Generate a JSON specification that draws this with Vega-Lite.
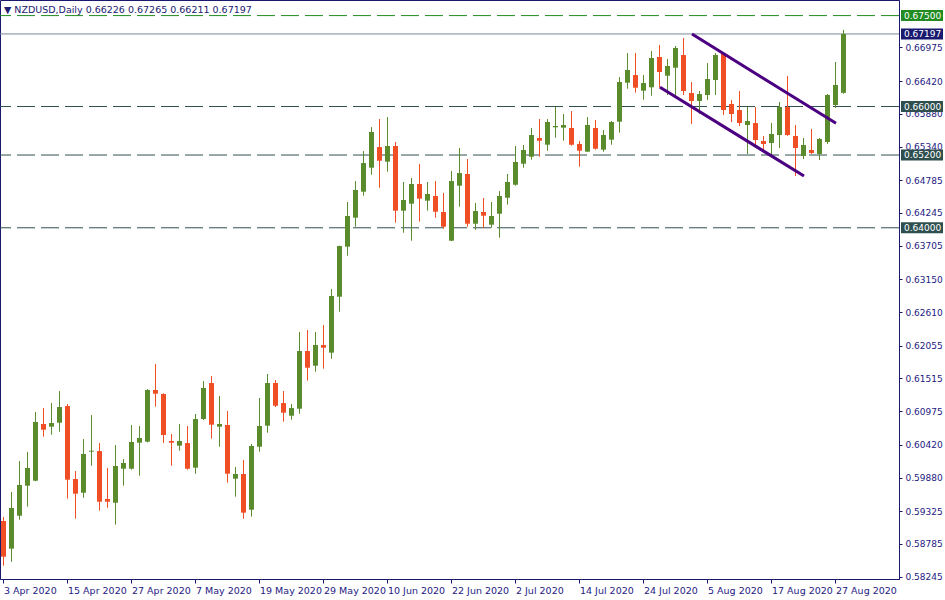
{
  "$schema": "https://vega.github.io/schema/vega-lite/v6.json",
  "width": 899,
  "height": 579,
  "autosize": {"type": "none"},
  "padding": {"left": 0, "top": 0, "right": 46, "bottom": 21},
  "background": "white",
  "config": {
    "view": {"stroke": "#191970", "strokeWidth": 1},
    "font": "DejaVu Sans",
    "axis": {"grid": false, "title": null, "domainColor": "#191970", "tickColor": "#191970", "labelColor": "#1E2082", "labelFont": "DejaVu Sans", "labelOverlap": false}
  },
  "title": {
    "text": "▼ NZDUSD,Daily  0.66226 0.67265 0.66211 0.67197",
    "anchor": "start",
    "frame": "group",
    "offset": -14,
    "dx": 4,
    "fontSize": 9.5,
    "font": "DejaVu Sans",
    "fontWeight": "normal",
    "color": "#202070"
  },
  "datasets": {
    "candles": [
      {"date": "3 Apr 2020", "open": 0.59164, "high": 0.5923, "low": 0.58426, "close": 0.58575},
      {"date": "6 Apr 2020", "open": 0.58707, "high": 0.59642, "low": 0.58492, "close": 0.59378},
      {"date": "7 Apr 2020", "open": 0.59251, "high": 0.60153, "low": 0.59185, "close": 0.59757},
      {"date": "8 Apr 2020", "open": 0.59746, "high": 0.60302, "low": 0.594, "close": 0.60038},
      {"date": "9 Apr 2020", "open": 0.59828, "high": 0.60961, "low": 0.5982, "close": 0.60797},
      {"date": "10 Apr 2020", "open": 0.60764, "high": 0.61027, "low": 0.60554, "close": 0.6067},
      {"date": "13 Apr 2020", "open": 0.60719, "high": 0.6111, "low": 0.60587, "close": 0.6078},
      {"date": "14 Apr 2020", "open": 0.60785, "high": 0.61308, "low": 0.60637, "close": 0.61044},
      {"date": "15 Apr 2020", "open": 0.6106, "high": 0.61093, "low": 0.59532, "close": 0.59845},
      {"date": "16 Apr 2020", "open": 0.59856, "high": 0.59988, "low": 0.59202, "close": 0.59614},
      {"date": "17 Apr 2020", "open": 0.5963, "high": 0.60516, "low": 0.59548, "close": 0.60269},
      {"date": "20 Apr 2020", "open": 0.60307, "high": 0.60912, "low": 0.60076, "close": 0.60323},
      {"date": "21 Apr 2020", "open": 0.60318, "high": 0.6045, "low": 0.59334, "close": 0.59482},
      {"date": "22 Apr 2020", "open": 0.59527, "high": 0.60038, "low": 0.59383, "close": 0.59482},
      {"date": "23 Apr 2020", "open": 0.59465, "high": 0.60417, "low": 0.59103, "close": 0.60071},
      {"date": "24 Apr 2020", "open": 0.60026, "high": 0.60186, "low": 0.59746, "close": 0.6012},
      {"date": "27 Apr 2020", "open": 0.60026, "high": 0.60747, "low": 0.6001, "close": 0.60467},
      {"date": "28 Apr 2020", "open": 0.60455, "high": 0.60731, "low": 0.59911, "close": 0.60533},
      {"date": "29 Apr 2020", "open": 0.60472, "high": 0.61341, "low": 0.6046, "close": 0.61324},
      {"date": "30 Apr 2020", "open": 0.61324, "high": 0.61753, "low": 0.61049, "close": 0.61263},
      {"date": "1 May 2020", "open": 0.61258, "high": 0.6127, "low": 0.6045, "close": 0.60582},
      {"date": "4 May 2020", "open": 0.60483, "high": 0.60599, "low": 0.60076, "close": 0.60455},
      {"date": "5 May 2020", "open": 0.60406, "high": 0.60764, "low": 0.60323, "close": 0.60483},
      {"date": "6 May 2020", "open": 0.6045, "high": 0.60731, "low": 0.6001, "close": 0.60026},
      {"date": "7 May 2020", "open": 0.60043, "high": 0.60928, "low": 0.59944, "close": 0.60846},
      {"date": "8 May 2020", "open": 0.60846, "high": 0.61473, "low": 0.6083, "close": 0.61357},
      {"date": "11 May 2020", "open": 0.6144, "high": 0.61555, "low": 0.60521, "close": 0.60752},
      {"date": "12 May 2020", "open": 0.60719, "high": 0.61225, "low": 0.60389, "close": 0.60764},
      {"date": "13 May 2020", "open": 0.60747, "high": 0.60978, "low": 0.59795, "close": 0.59944},
      {"date": "14 May 2020", "open": 0.59861, "high": 0.60054, "low": 0.59565, "close": 0.59939},
      {"date": "15 May 2020", "open": 0.59939, "high": 0.6017, "low": 0.59202, "close": 0.59301},
      {"date": "18 May 2020", "open": 0.5935, "high": 0.60434, "low": 0.59235, "close": 0.60401},
      {"date": "19 May 2020", "open": 0.60389, "high": 0.61192, "low": 0.60307, "close": 0.60731},
      {"date": "20 May 2020", "open": 0.60736, "high": 0.61588, "low": 0.6062, "close": 0.6144},
      {"date": "21 May 2020", "open": 0.6144, "high": 0.61489, "low": 0.61044, "close": 0.61065},
      {"date": "22 May 2020", "open": 0.6111, "high": 0.61308, "low": 0.60801, "close": 0.6095},
      {"date": "25 May 2020", "open": 0.609, "high": 0.61093, "low": 0.60835, "close": 0.61027},
      {"date": "26 May 2020", "open": 0.61016, "high": 0.62281, "low": 0.60933, "close": 0.61968},
      {"date": "27 May 2020", "open": 0.61968, "high": 0.62314, "low": 0.61478, "close": 0.61692},
      {"date": "28 May 2020", "open": 0.61725, "high": 0.62281, "low": 0.61626, "close": 0.62067},
      {"date": "29 May 2020", "open": 0.62067, "high": 0.62396, "low": 0.61676, "close": 0.62022},
      {"date": "1 Jun 2020", "open": 0.6194, "high": 0.6299, "low": 0.61841, "close": 0.62875},
      {"date": "2 Jun 2020", "open": 0.62863, "high": 0.63705, "low": 0.62616, "close": 0.63699},
      {"date": "3 Jun 2020", "open": 0.63688, "high": 0.64425, "low": 0.63539, "close": 0.64194},
      {"date": "4 Jun 2020", "open": 0.64166, "high": 0.64771, "low": 0.64018, "close": 0.64623},
      {"date": "5 Jun 2020", "open": 0.64595, "high": 0.65266, "low": 0.64529, "close": 0.65068},
      {"date": "8 Jun 2020", "open": 0.64991, "high": 0.65662, "low": 0.64875, "close": 0.6558},
      {"date": "9 Jun 2020", "open": 0.65332, "high": 0.65794, "low": 0.64661, "close": 0.65106},
      {"date": "10 Jun 2020", "open": 0.6509, "high": 0.65827, "low": 0.64925, "close": 0.65349},
      {"date": "11 Jun 2020", "open": 0.65349, "high": 0.65415, "low": 0.64084, "close": 0.64282},
      {"date": "12 Jun 2020", "open": 0.64282, "high": 0.64755, "low": 0.63919, "close": 0.64458},
      {"date": "15 Jun 2020", "open": 0.64397, "high": 0.64821, "low": 0.63787, "close": 0.64722},
      {"date": "16 Jun 2020", "open": 0.64722, "high": 0.65052, "low": 0.641, "close": 0.6448},
      {"date": "17 Jun 2020", "open": 0.64447, "high": 0.64755, "low": 0.64282, "close": 0.64557},
      {"date": "18 Jun 2020", "open": 0.64524, "high": 0.64771, "low": 0.64166, "close": 0.64265},
      {"date": "19 Jun 2020", "open": 0.6426, "high": 0.64574, "low": 0.63985, "close": 0.64018},
      {"date": "22 Jun 2020", "open": 0.63787, "high": 0.64936, "low": 0.6378, "close": 0.64771},
      {"date": "23 Jun 2020", "open": 0.64694, "high": 0.65316, "low": 0.64348, "close": 0.64903},
      {"date": "24 Jun 2020", "open": 0.64887, "high": 0.65134, "low": 0.64018, "close": 0.64067},
      {"date": "25 Jun 2020", "open": 0.64067, "high": 0.64409, "low": 0.63968, "close": 0.64277},
      {"date": "26 Jun 2020", "open": 0.6426, "high": 0.64491, "low": 0.64001, "close": 0.64199},
      {"date": "29 Jun 2020", "open": 0.64051, "high": 0.64425, "low": 0.64001, "close": 0.64194},
      {"date": "30 Jun 2020", "open": 0.64232, "high": 0.64607, "low": 0.63836, "close": 0.64524},
      {"date": "1 Jul 2020", "open": 0.64496, "high": 0.64887, "low": 0.64381, "close": 0.64755},
      {"date": "2 Jul 2020", "open": 0.6471, "high": 0.65349, "low": 0.64694, "close": 0.65085},
      {"date": "3 Jul 2020", "open": 0.65057, "high": 0.65365, "low": 0.64991, "close": 0.65283},
      {"date": "6 Jul 2020", "open": 0.65172, "high": 0.65646, "low": 0.65123, "close": 0.6553},
      {"date": "7 Jul 2020", "open": 0.65481, "high": 0.65794, "low": 0.65172, "close": 0.65436},
      {"date": "8 Jul 2020", "open": 0.6537, "high": 0.65794, "low": 0.65271, "close": 0.65745},
      {"date": "9 Jul 2020", "open": 0.65657, "high": 0.65992, "low": 0.65486, "close": 0.65679},
      {"date": "10 Jul 2020", "open": 0.65651, "high": 0.65877, "low": 0.65436, "close": 0.65695},
      {"date": "13 Jul 2020", "open": 0.65646, "high": 0.65926, "low": 0.65354, "close": 0.6537},
      {"date": "14 Jul 2020", "open": 0.65382, "high": 0.65431, "low": 0.65007, "close": 0.65271},
      {"date": "15 Jul 2020", "open": 0.65255, "high": 0.65827, "low": 0.65255, "close": 0.65695},
      {"date": "16 Jul 2020", "open": 0.65646, "high": 0.65778, "low": 0.65288, "close": 0.65304},
      {"date": "17 Jul 2020", "open": 0.65288, "high": 0.65613, "low": 0.65255, "close": 0.6553},
      {"date": "20 Jul 2020", "open": 0.65453, "high": 0.65761, "low": 0.6537, "close": 0.65745},
      {"date": "21 Jul 2020", "open": 0.6575, "high": 0.66487, "low": 0.65568, "close": 0.66404},
      {"date": "22 Jul 2020", "open": 0.66393, "high": 0.66883, "low": 0.66294, "close": 0.66602},
      {"date": "23 Jul 2020", "open": 0.6652, "high": 0.66883, "low": 0.66228, "close": 0.6631},
      {"date": "24 Jul 2020", "open": 0.66261, "high": 0.6652, "low": 0.66112, "close": 0.66388},
      {"date": "27 Jul 2020", "open": 0.66317, "high": 0.66916, "low": 0.66178, "close": 0.668},
      {"date": "28 Jul 2020", "open": 0.66817, "high": 0.67015, "low": 0.6631, "close": 0.66569},
      {"date": "29 Jul 2020", "open": 0.66508, "high": 0.66784, "low": 0.6619, "close": 0.66668},
      {"date": "30 Jul 2020", "open": 0.6664, "high": 0.66998, "low": 0.66178, "close": 0.66965},
      {"date": "31 Jul 2020", "open": 0.6685, "high": 0.6713, "low": 0.6619, "close": 0.66256},
      {"date": "3 Aug 2020", "open": 0.66223, "high": 0.66404, "low": 0.65712, "close": 0.66091},
      {"date": "4 Aug 2020", "open": 0.66091, "high": 0.66256, "low": 0.65877, "close": 0.66206},
      {"date": "5 Aug 2020", "open": 0.6619, "high": 0.66718, "low": 0.66107, "close": 0.66454},
      {"date": "6 Aug 2020", "open": 0.66437, "high": 0.66883, "low": 0.6619, "close": 0.6685},
      {"date": "7 Aug 2020", "open": 0.66866, "high": 0.66899, "low": 0.6586, "close": 0.65942},
      {"date": "10 Aug 2020", "open": 0.66042, "high": 0.66107, "low": 0.65745, "close": 0.65877},
      {"date": "11 Aug 2020", "open": 0.65942, "high": 0.66256, "low": 0.65679, "close": 0.65728},
      {"date": "12 Aug 2020", "open": 0.65695, "high": 0.65992, "low": 0.65217, "close": 0.65761},
      {"date": "13 Aug 2020", "open": 0.65728, "high": 0.65992, "low": 0.65332, "close": 0.65448},
      {"date": "14 Aug 2020", "open": 0.65431, "high": 0.65514, "low": 0.65233, "close": 0.65382},
      {"date": "17 Aug 2020", "open": 0.65398, "high": 0.6573, "low": 0.65167, "close": 0.65547},
      {"date": "18 Aug 2020", "open": 0.6553, "high": 0.66075, "low": 0.65316, "close": 0.65992},
      {"date": "19 Aug 2020", "open": 0.65992, "high": 0.66503, "low": 0.65514, "close": 0.6553},
      {"date": "20 Aug 2020", "open": 0.65514, "high": 0.65695, "low": 0.64854, "close": 0.65316},
      {"date": "21 Aug 2020", "open": 0.65184, "high": 0.65481, "low": 0.65134, "close": 0.65365},
      {"date": "24 Aug 2020", "open": 0.65283, "high": 0.65629, "low": 0.65217, "close": 0.65233},
      {"date": "25 Aug 2020", "open": 0.65217, "high": 0.65481, "low": 0.65118, "close": 0.65464},
      {"date": "26 Aug 2020", "open": 0.65415, "high": 0.66206, "low": 0.65382, "close": 0.6619},
      {"date": "27 Aug 2020", "open": 0.66025, "high": 0.66734, "low": 0.65976, "close": 0.66355},
      {"date": "28 Aug 2020", "open": 0.66226, "high": 0.67265, "low": 0.66211, "close": 0.67197}
    ],
    "levels": [
      {"level": 0.675, "label": "0.67500", "kind": "target"},
      {"level": 0.67197, "label": "0.67197", "kind": "bid"},
      {"level": 0.66, "label": "0.66000", "kind": "level"},
      {"level": 0.652, "label": "0.65200", "kind": "level"},
      {"level": 0.64, "label": "0.64000", "kind": "level"}
    ],
    "channel": [
      {"line": "upper", "date": "3 Aug 2020", "price": 0.67196},
      {"line": "upper", "date": "27 Aug 2020", "price": 0.65723},
      {"line": "lower", "date": "28 Jul 2020", "price": 0.66317},
      {"line": "lower", "date": "21 Aug 2020", "price": 0.64854}
    ]
  },
  "layer": [
    {
      "data": {"name": "levels"},
      "transform": [{"filter": "datum.kind != 'bid'"}],
      "mark": {"type": "rule", "strokeDash": [18, 6], "strokeWidth": 1},
      "encoding": {
        "y": {"field": "level", "type": "quantitative", "scale": {"domain": [0.58207, 0.67757], "zero": false, "nice": false},
              "axis": {"orient": "right", "values": [0.58245, 0.58785, 0.59325, 0.5988, 0.6042, 0.60975, 0.61515, 0.62055, 0.6261, 0.6315, 0.63705, 0.64245, 0.64785, 0.6534, 0.6588, 0.6642, 0.66975],
                       "tickCount": 30, "format": ".5f", "tickSize": 3, "labelPadding": 3, "labelFontSize": 9, "labelBaseline": "middle", "labelOverlap": false, "domainColor": "#191970"}},
        "color": {"field": "kind", "type": "nominal", "scale": {"domain": ["target", "bid", "level"], "range": ["#228B22", "#191970", "#2F4F4F"]}, "legend": null}
      }
    },
    {
      "data": {"name": "levels"},
      "transform": [{"filter": "datum.kind == 'bid'"}],
      "mark": {"type": "rule", "color": "#778899", "strokeWidth": 1},
      "encoding": {
        "y": {"field": "level", "type": "quantitative"}
      }
    },
    {
      "data": {"name": "candles"},
      "mark": {"type": "rule", "strokeWidth": 1, "xOffset": -0.5},
      "encoding": {
        "x": {"field": "date", "type": "ordinal", "sort": null,
              "scale": {"paddingInner": 0, "paddingOuter": 0.1875, "align": 0,
                        "domain": ["3 Apr 2020", "6 Apr 2020", "7 Apr 2020", "8 Apr 2020", "9 Apr 2020", "10 Apr 2020", "13 Apr 2020", "14 Apr 2020", "15 Apr 2020", "16 Apr 2020", "17 Apr 2020", "20 Apr 2020", "21 Apr 2020", "22 Apr 2020", "23 Apr 2020", "24 Apr 2020", "27 Apr 2020", "28 Apr 2020", "29 Apr 2020", "30 Apr 2020", "1 May 2020", "4 May 2020", "5 May 2020", "6 May 2020", "7 May 2020", "8 May 2020", "11 May 2020", "12 May 2020", "13 May 2020", "14 May 2020", "15 May 2020", "18 May 2020", "19 May 2020", "20 May 2020", "21 May 2020", "22 May 2020", "25 May 2020", "26 May 2020", "27 May 2020", "28 May 2020", "29 May 2020", "1 Jun 2020", "2 Jun 2020", "3 Jun 2020", "4 Jun 2020", "5 Jun 2020", "8 Jun 2020", "9 Jun 2020", "10 Jun 2020", "11 Jun 2020", "12 Jun 2020", "15 Jun 2020", "16 Jun 2020", "17 Jun 2020", "18 Jun 2020", "19 Jun 2020", "22 Jun 2020", "23 Jun 2020", "24 Jun 2020", "25 Jun 2020", "26 Jun 2020", "29 Jun 2020", "30 Jun 2020", "1 Jul 2020", "2 Jul 2020", "3 Jul 2020", "6 Jul 2020", "7 Jul 2020", "8 Jul 2020", "9 Jul 2020", "10 Jul 2020", "13 Jul 2020", "14 Jul 2020", "15 Jul 2020", "16 Jul 2020", "17 Jul 2020", "20 Jul 2020", "21 Jul 2020", "22 Jul 2020", "23 Jul 2020", "24 Jul 2020", "27 Jul 2020", "28 Jul 2020", "29 Jul 2020", "30 Jul 2020", "31 Jul 2020", "3 Aug 2020", "4 Aug 2020", "5 Aug 2020", "6 Aug 2020", "7 Aug 2020", "10 Aug 2020", "11 Aug 2020", "12 Aug 2020", "13 Aug 2020", "14 Aug 2020", "17 Aug 2020", "18 Aug 2020", "19 Aug 2020", "20 Aug 2020", "21 Aug 2020", "24 Aug 2020", "25 Aug 2020", "26 Aug 2020", "27 Aug 2020", "28 Aug 2020", "31 Aug 2020", "1 Sep 2020", "2 Sep 2020", "3 Sep 2020", "4 Sep 2020", "7 Sep 2020"]},
              "axis": {"values": ["3 Apr 2020", "15 Apr 2020", "27 Apr 2020", "7 May 2020", "19 May 2020", "29 May 2020", "10 Jun 2020", "22 Jun 2020", "2 Jul 2020", "14 Jul 2020", "24 Jul 2020", "5 Aug 2020", "17 Aug 2020", "27 Aug 2020"],
                       "labelAngle": 0, "labelAlign": "left", "labelBaseline": "top", "labelPadding": 2, "tickSize": 4, "labelFontSize": 9.5, "labelOverlap": false, "labelFlush": false, "bandPosition": 0.44}},
        "y": {"field": "low", "type": "quantitative"},
        "y2": {"field": "high"},
        "color": {"condition": {"test": "datum.close >= datum.open", "value": "#5A8C2E"}, "value": "#F04E24"}
      }
    },
    {
      "data": {"name": "candles"},
      "mark": {"type": "bar", "width": 5, "xOffset": -0.5},
      "encoding": {
        "x": {"field": "date", "type": "ordinal", "sort": null},
        "y": {"field": "open", "type": "quantitative"},
        "y2": {"field": "close"},
        "color": {"condition": {"test": "datum.close >= datum.open", "value": "#5A8C2E"}, "value": "#F04E24"}
      }
    },
    {
      "data": {"name": "channel"},
      "mark": {"type": "line", "color": "#4B0082", "strokeWidth": 3},
      "encoding": {
        "x": {"field": "date", "type": "ordinal", "sort": null},
        "y": {"field": "price", "type": "quantitative"},
        "detail": {"field": "line", "type": "nominal"}
      }
    },
    {
      "data": {"name": "levels"},
      "mark": {"type": "rect", "xOffset": 2, "x2Offset": 44, "yOffset": -5.5, "y2Offset": 5.5},
      "encoding": {
        "x": {"value": "width"},
        "x2": {"value": "width"},
        "y": {"field": "level", "type": "quantitative"},
        "y2": {"field": "level"},
        "color": {"field": "kind", "type": "nominal", "legend": null}
      }
    },
    {
      "data": {"name": "levels"},
      "mark": {"type": "text", "align": "left", "baseline": "middle", "dx": 5, "fontSize": 9, "color": "white", "font": "DejaVu Sans"},
      "encoding": {
        "x": {"value": "width"},
        "y": {"field": "level", "type": "quantitative"},
        "text": {"field": "label"}
      }
    }
  ]
}
